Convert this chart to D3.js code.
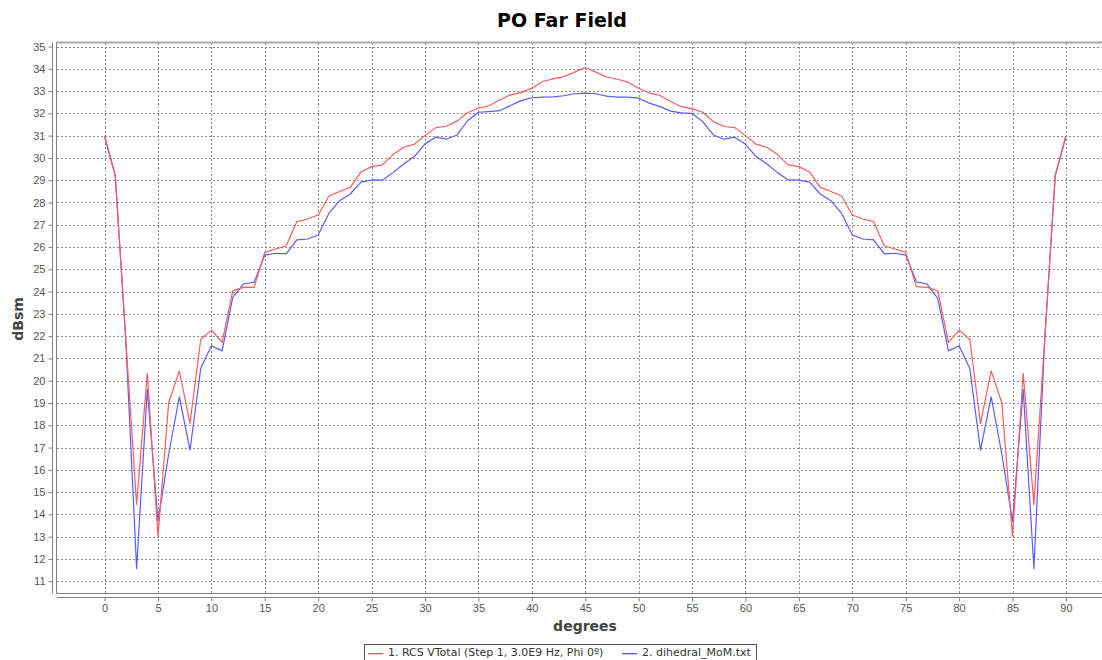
<!DOCTYPE html>
<html>
<head>
<meta charset="utf-8">
<script src="https://cdn.jsdelivr.net/npm/d3@7"></script>
<style>
  body { margin: 0; background: #fff; overflow: hidden; }
  svg { display: block; font-family: "DejaVu Sans", sans-serif; }
  .grid line { stroke: #8c8c8c; stroke-dasharray: 2,2; shape-rendering: crispEdges; }
  .tick text { fill: #555; font-size: 11px; }
  .tick line { stroke: #808080; }
  .domain { display: none; }
</style>
</head>
<body>
<svg id="chart" width="1102" height="660"></svg>
<script>
const degrees = [0, 1, 2, 3, 4, 5, 6, 7, 8, 9, 10, 11, 12, 13, 14, 15, 16, 17, 18, 19,
    20, 21, 22, 23, 24, 25, 26, 27, 28, 29, 30, 31, 32, 33, 34, 35, 36, 37, 38, 39,
    40, 41, 42, 43, 44, 45, 46, 47, 48, 49, 50, 51, 52, 53, 54, 55, 56, 57, 58, 59,
    60, 61, 62, 63, 64, 65, 66, 67, 68, 69, 70, 71, 72, 73, 74, 75, 76, 77, 78, 79,
    80, 81, 82, 83, 84, 85, 86, 87, 88, 89, 90];

const rcsVTotal = [31.0, 29.24, 21.75, 14.45, 20.33, 13.02, 19.01, 20.44, 18.08, 21.85,
    22.27, 21.72, 24.03, 24.19, 24.19, 25.76, 25.91, 26.06, 27.14, 27.26,
    27.44, 28.29, 28.49, 28.68, 29.37, 29.61, 29.69, 30.15, 30.48, 30.61,
    31.0, 31.36, 31.42, 31.65, 32.04, 32.23, 32.34, 32.61, 32.83, 32.93,
    33.13, 33.43, 33.55, 33.65, 33.85, 34.06, 33.85, 33.63, 33.53, 33.4,
    33.13, 32.91, 32.8, 32.53, 32.3, 32.2, 32.05, 31.63, 31.41, 31.36,
    31.0, 30.61, 30.48, 30.15, 29.69, 29.61, 29.37, 28.68, 28.49, 28.29,
    27.44, 27.26, 27.14, 26.06, 25.91, 25.76, 24.22, 24.19, 24.04, 21.72,
    22.27, 21.85, 18.08, 20.44, 19.01, 13.02, 20.33, 14.45, 21.75, 29.24, 31.0];

const dihedralMoM = [30.95, 29.2, 21.7, 11.57, 19.61, 13.7, 16.7, 19.28, 16.88, 20.55,
    21.57, 21.34, 23.74, 24.34, 24.42, 25.64, 25.72, 25.69, 26.32, 26.36,
    26.54, 27.51, 28.08, 28.38, 28.91, 29.01, 29.0, 29.34, 29.73, 30.06,
    30.63, 30.93, 30.84, 31.03, 31.68, 32.05, 32.08, 32.12, 32.35, 32.57,
    32.7, 32.73, 32.74, 32.79, 32.88, 32.91, 32.88, 32.77, 32.73, 32.73,
    32.68, 32.46, 32.3, 32.1, 32.02, 32.0, 31.63, 31.03, 30.84, 30.93,
    30.61, 30.06, 29.73, 29.34, 29.01, 29.0, 28.91, 28.38, 28.08, 27.51,
    26.54, 26.36, 26.32, 25.69, 25.72, 25.64, 24.44, 24.34, 23.7, 21.34,
    21.57, 20.55, 16.88, 19.28, 16.7, 13.7, 19.61, 11.57, 21.7, 29.2, 30.95];

const xTicks = [0, 5, 10, 15, 20, 25, 30, 35, 40, 45, 50, 55, 60, 65, 70, 75, 80, 85, 90];
const yTicks = [11, 12, 13, 14, 15, 16, 17, 18, 19, 20, 21, 22, 23, 24, 25, 26, 27, 28, 29,
    30, 31, 32, 33, 34, 35];

const seriesNames = ['1. RCS VTotal (Step 1, 3.0E9 Hz, Phi 0º)', '2. dihedral_MoM.txt'];
const seriesColors = ['#ff5a5a', '#5a5aff'];

const plot = {left: 56.5, top: 42.5, bottom: 593.5, right: 1114};

const svg = d3.select('#chart');

const x = d3.scaleLinear()
    .domain([-4.5, 94.5])
    .range([plot.left, plot.right]);

const y = d3.scaleLinear()
    .domain([10.45, 35.18])
    .range([plot.bottom, plot.top]);

// TITLE

svg.append('text')
    .attr('x', 562)
    .attr('y', 27)
    .attr('text-anchor', 'middle')
    .attr('font-size', 19)
    .attr('font-weight', 'bold')
    .attr('fill', '#000')
    .text('PO Far Field');

// GRID

const grid = svg.append('g').attr('class', 'grid');
grid.selectAll('.hgrid')
    .data(yTicks)
    .enter()
    .append('line')
    .attr('x1', plot.left)
    .attr('x2', plot.right)
    .attr('y1', d => Math.round(y(d)) + 0.5)
    .attr('y2', d => Math.round(y(d)) + 0.5);
grid.selectAll('.vgrid')
    .data(xTicks)
    .enter()
    .append('line')
    .attr('x1', d => Math.round(x(d)) + 0.5)
    .attr('x2', d => Math.round(x(d)) + 0.5)
    .attr('y1', plot.top)
    .attr('y2', plot.bottom)
    .attr('stroke', '#aaa');

// PLOT OUTLINE

svg.append('line')
    .attr('x1', plot.left).attr('x2', plot.right)
    .attr('y1', plot.top).attr('y2', plot.top)
    .attr('stroke', '#a8a8a8').attr('stroke-width', 2);
svg.append('line')
    .attr('x1', plot.left).attr('x2', plot.left)
    .attr('y1', plot.top).attr('y2', plot.bottom)
    .attr('stroke', '#808080');
svg.append('line')
    .attr('x1', plot.left).attr('x2', plot.right)
    .attr('y1', plot.bottom).attr('y2', plot.bottom)
    .attr('stroke', '#808080');

// AXES

const yAxis = svg.append('g')
    .attr('transform', 'translate(52.5,0)')
    .call(d3.axisLeft(y).tickValues(yTicks).tickSize(4).tickPadding(3));
yAxis.append('line')
    .attr('x1', 0).attr('x2', 0)
    .attr('y1', plot.top).attr('y2', plot.bottom)
    .attr('stroke', '#808080');

const xAxis = svg.append('g')
    .attr('transform', 'translate(0,597.5)')
    .call(d3.axisBottom(x).tickValues(xTicks).tickSize(4).tickPadding(3));
xAxis.append('line')
    .attr('x1', plot.left).attr('x2', plot.right)
    .attr('y1', 0).attr('y2', 0)
    .attr('stroke', '#808080');

svg.append('text')
    .attr('transform', 'translate(23,319) rotate(-90)')
    .attr('text-anchor', 'middle')
    .attr('font-size', 14)
    .attr('font-weight', 'bold')
    .attr('fill', '#444')
    .text('dBsm');

svg.append('text')
    .attr('x', 585)
    .attr('y', 631)
    .attr('text-anchor', 'middle')
    .attr('font-size', 14)
    .attr('font-weight', 'bold')
    .attr('fill', '#444')
    .text('degrees');

// SERIES (second series first so the first ends on top)

const line = d3.line()
    .x((d, i) => x(degrees[i]))
    .y(d => y(d));

[dihedralMoM, rcsVTotal].forEach((values, k) => {
    svg.append('path')
        .datum(values)
        .attr('fill', 'none')
        .attr('stroke', seriesColors[1 - k])
        .attr('stroke-width', 1.2)
        .attr('stroke-linejoin', 'round')
        .attr('d', line);
});

// LEGEND

const legend = svg.append('g');
legend.append('rect')
    .attr('x', 364.5).attr('y', 644.5)
    .attr('width', 392).attr('height', 30)
    .attr('fill', '#fff')
    .attr('stroke', '#555');

const legendX = [[368, 388], [622, 642]];
seriesNames.forEach((name, i) => {
    legend.append('rect')
        .attr('x', legendX[i][0]).attr('y', 653)
        .attr('width', 15).attr('height', 1.4)
        .attr('fill', seriesColors[i]);
    legend.append('text')
        .attr('x', legendX[i][1])
        .attr('y', 656)
        .attr('font-size', 11)
        .attr('fill', '#333')
        .text(name);
});
</script>
</body>
</html>
